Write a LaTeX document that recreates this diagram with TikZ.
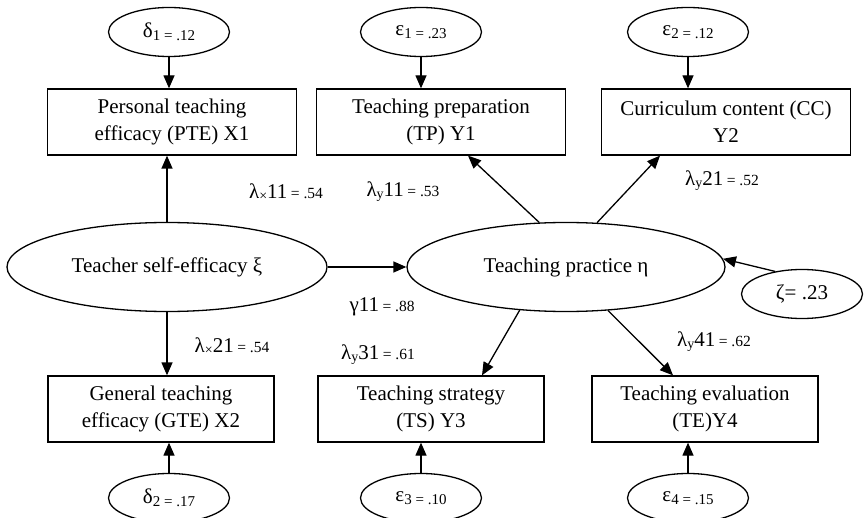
\documentclass[tikz,border=0pt]{standalone}
\usepackage{fontspec}
\setmainfont{Liberation Serif}
\usetikzlibrary{arrows.meta,positioning,shapes.geometric,calc}

\newcommand{\errlab}[2]{#1\raisebox{-0.3ex}{\fontsize{15}{17}\selectfont #2}}
\newcommand{\loadlab}[4]{#1\raisebox{-0.2ex}{\fontsize{14}{16}\selectfont #2}#3\,{\fontsize{15.5}{17}\selectfont = #4}}

\tikzset{
  obsbox/.style={draw,line width=1.3pt,minimum width=249pt,minimum height=66pt,align=center,inner sep=2pt},
  latent/.style={draw,ellipse,line width=1.3pt,minimum width=320pt,minimum height=89pt,inner sep=1pt},
  errnode/.style={draw,ellipse,line width=1.3pt,minimum width=121pt,minimum height=49pt,inner sep=1pt},
  link/.style={line width=1.3pt,-{Triangle[length=13pt,width=11pt]}},
  coef/.style={inner sep=0pt}
}

\begin{document}
\begin{tikzpicture}[x=1pt,y=-1pt,font=\fontsize{21}{27}\selectfont]
    \useasboundingbox (0,0) rectangle (864,518);
    \node[errnode] (d1) at (169,32) {\errlab{δ}{1 = .12}};
    \node[errnode] (e1) at (421,32) {\errlab{ε}{1 = .23}};
    \node[errnode] (e2) at (688,32) {\errlab{ε}{2 = .12}};
    \node[obsbox] (pte) at (172,122) {Personal teaching\\efficacy (PTE) X1};
    \node[obsbox] (tp) at (441,122) {Teaching preparation\\(TP) Y1};
    \node[obsbox] (cc) at (726,122) {Curriculum content (CC)\\Y2};
    \node[latent] (tse) at (167,267) {Teacher self-efficacy ξ};
    \node[latent,minimum width=318pt] (tpr) at (566,267) {Teaching practice η};
    \node[errnode] (zeta) at (802,294) {ζ= .23};
    \node[obsbox,minimum width=226pt] (gte) at (161,409) {General teaching\\efficacy (GTE) X2};
    \node[obsbox,minimum width=226pt] (ts) at (431,409) {Teaching strategy\\(TS) Y3};
    \node[obsbox,minimum width=226pt] (te) at (705,409) {Teaching evaluation\\(TE)Y4};
    \node[errnode] (d2) at (169,498) {\errlab{δ}{2 = .17}};
    \node[errnode] (e3) at (421,498) {\errlab{ε}{3 = .10}};
    \node[errnode] (e4) at (688,498) {\errlab{ε}{4 = .15}};

    \node[coef] (lx11) at (286,192) {\loadlab{λ}{×}{11}{.54}};
    \node[coef] (ly11) at (403,192) {\loadlab{λ}{y}{11}{.53}};
    \node[coef] (ly21) at (722,181) {\loadlab{λ}{y}{21}{.52}};
    \node[coef] (g11) at (382,307) {γ11\,{\fontsize{15.5}{17}\selectfont = .88}};
    \node[coef] (lx21) at (232,346) {\loadlab{λ}{×}{21}{.54}};
    \node[coef] (ly31) at (378,355) {\loadlab{λ}{y}{31}{.61}};
    \node[coef] (ly41) at (714,342) {\loadlab{λ}{y}{41}{.62}};

    \draw[link] (d1.south) -- (d1.south |- pte.north);
    \draw[link] (e1.south) -- (e1.south |- tp.north);
    \draw[link] (e2.south) -- (e2.south |- cc.north);
    \draw[link] (d2.north) -- (d2.north |- gte.south);
    \draw[link] (e3.north) -- (e3.north |- ts.south);
    \draw[link] (e4.north) -- (e4.north |- te.south);
    \draw[link] (tse.north) -- (tse.north |- pte.south);
    \draw[link] (tse.south) -- (tse.south |- gte.north);
    \draw[link] (tse.east) -- (tpr.west);
    \draw[link] (tpr.121) -- ([xshift=27pt]tp.south);
    \draw[link] (tpr.55) -- ([xshift=-66pt]cc.south);
    \draw[link] (tpr.223) -- ([xshift=51pt]ts.north);
    \draw[link] (tpr.314) -- ([xshift=-32pt]te.north);
    \draw[link] (zeta.140) -- (tpr.3);
\end{tikzpicture}
\end{document}
